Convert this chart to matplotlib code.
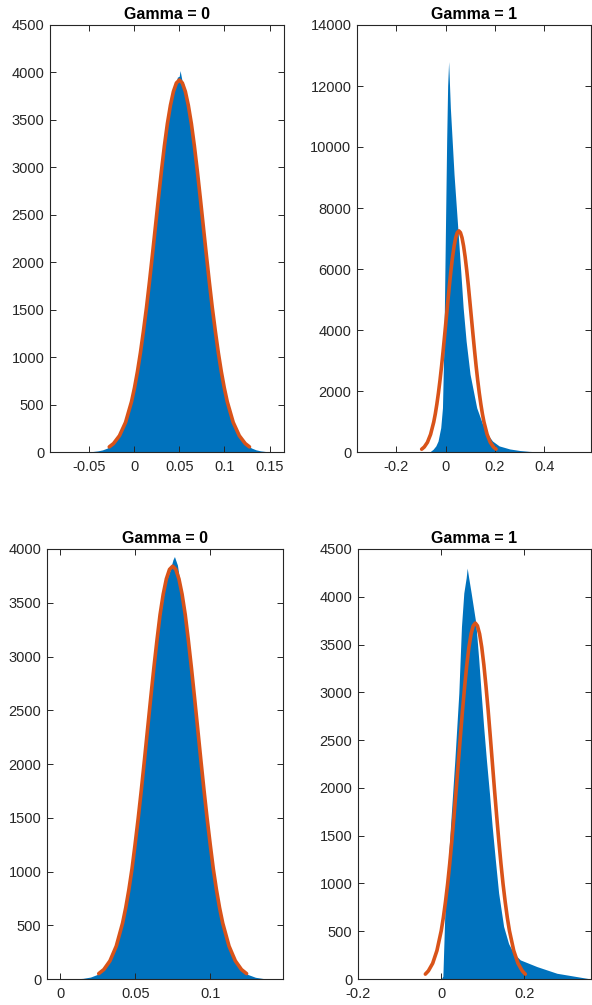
###########################################################################################
## Histograms with normal fits, Gamma = 0 / Gamma = 1
import matplotlib
matplotlib.use('Agg')
import matplotlib.pyplot as plt

plt.rcParams['font.family'] = ['Liberation Sans', 'DejaVu Sans']

## Data ################################
titles = ['Gamma = 0', 'Gamma = 1', 'Gamma = 0', 'Gamma = 1']

# top left
tl_hist_x = [-0.052, -0.045, -0.04, -0.035, -0.03, -0.025, -0.02, -0.015, -0.01, -0.005, 0, 0.005,
             0.01, 0.015, 0.02, 0.025, 0.03, 0.035, 0.04, 0.045, 0.048, 0.05, 0.051, 0.053, 0.055,
             0.06, 0.065, 0.07, 0.075, 0.08, 0.085, 0.09, 0.095, 0.1, 0.105, 0.11, 0.115, 0.12,
             0.125, 0.13, 0.135, 0.14, 0.145, 0.15]
tl_hist_y = [0, 6, 12, 22, 40, 70, 117, 190, 297, 448, 652, 915, 1240, 1623, 2047, 2494, 2932,
             3325, 3640, 3846, 3950, 3960, 4020, 3920, 3880, 3661, 3354, 2966, 2530, 2082, 1655,
             1269, 938, 671, 462, 307, 197, 122, 73, 42, 23, 12, 6, 0]
tl_fit_x = [-0.0274, -0.0227, -0.0161, -0.0094, -0.0028, 0.0005, 0.0038, 0.0071, 0.0104, 0.0138,
            0.0171, 0.0204, 0.0237, 0.0270, 0.0303, 0.0336, 0.0369, 0.0403, 0.0436, 0.0469,
            0.0502,
            0.0535, 0.0568, 0.0601, 0.0635, 0.0668, 0.0701, 0.0734, 0.0767, 0.0800, 0.0833,
            0.0866, 0.0900, 0.0933, 0.0966, 0.0999, 0.1032, 0.1098, 0.1165, 0.1231, 0.1278]
tl_fit_y = [54, 89, 172, 312, 530, 676, 848, 1047, 1273, 1523, 1795, 2082, 2377, 2673, 2959,
            3225, 3459, 3654, 3799, 3889,
            3920,
            3889, 3799, 3654, 3459, 3225, 2959, 2673, 2377, 2082, 1795, 1523, 1273, 1047, 848,
            676, 530, 312, 172, 89, 54]

# top right
tr_hist_x = [-0.065, -0.051, -0.04, -0.031, -0.02, -0.013, -0.007, -0.001, 0.004, 0.008, 0.012,
             0.019, 0.034, 0.05, 0.062, 0.071, 0.083, 0.099, 0.126, 0.15, 0.17, 0.19, 0.217, 0.26,
             0.3, 0.34, 0.38, 0.42]
tr_hist_y = [0, 90, 200, 360, 800, 1450, 3640, 7250, 10200, 12000, 12800, 11290, 9100, 7250,
             5830, 4730, 3640, 2550, 1450, 910, 580, 360, 200, 100, 50, 20, 5, 0]
tr_fit_x = [-0.0975, -0.0868, -0.0740, -0.0613, -0.0485, -0.0421, -0.0358, -0.0294, -0.0230,
            -0.0166, -0.0103, -0.0039, 0.0025, 0.0089, 0.0152, 0.0216, 0.0280, 0.0344, 0.0407,
            0.0471,
            0.0535,
            0.0599, 0.0663, 0.0726, 0.0790, 0.0854, 0.0918, 0.0981, 0.1045, 0.1109, 0.1173,
            0.1236, 0.1300, 0.1364, 0.1428, 0.1491, 0.1555, 0.1683, 0.1810, 0.1938, 0.2045]
tr_fit_y = [91, 165, 318, 577, 981, 1250, 1568, 1936, 2354, 2817, 3319, 3850, 4397, 4944, 5472,
            5964, 6398, 6758, 7027, 7193,
            7250,
            7193, 7027, 6758, 6398, 5964, 5472, 4944, 4397, 3850, 3319, 2817, 2354, 1936, 1568,
            1250, 981, 577, 318, 165, 91]

# bottom left
bl_hist_x = [0.008, 0.015, 0.02, 0.025, 0.03, 0.035, 0.04, 0.045, 0.05, 0.055, 0.06, 0.065, 0.07,
             0.073, 0.075, 0.076, 0.078, 0.08, 0.085, 0.09, 0.095, 0.1, 0.105, 0.11, 0.115, 0.12,
             0.125, 0.13, 0.135, 0.14]
bl_hist_y = [0, 6, 18, 45, 105, 225, 438, 782, 1275, 1901, 2593, 3233, 3684, 3800, 3900, 3930,
             3850, 3658, 3186, 2538, 1847, 1230, 749, 416, 212, 99, 42, 16, 5, 0]
bl_fit_x = [0.0255, 0.0289, 0.0330, 0.0372, 0.0414, 0.0435, 0.0456, 0.0477, 0.0497, 0.0518,
            0.0539, 0.0560, 0.0581, 0.0602, 0.0623, 0.0644, 0.0664, 0.0685, 0.0706, 0.0727,
            0.0748,
            0.0769, 0.0790, 0.0811, 0.0832, 0.0852, 0.0873, 0.0894, 0.0915, 0.0936, 0.0957,
            0.0978, 0.0999, 0.1019, 0.1040, 0.1061, 0.1082, 0.1124, 0.1166, 0.1207, 0.1241]
bl_fit_y = [50, 88, 169, 306, 520, 662, 831, 1026, 1247, 1492, 1758, 2039, 2329, 2618, 2898,
            3159, 3389, 3579, 3722, 3810,
            3840,
            3810, 3722, 3579, 3389, 3159, 2898, 2618, 2329, 2039, 1758, 1492, 1247, 1026, 831,
            662, 520, 306, 169, 88, 50]

# bottom right
br_hist_x = [0.0, 0.004, 0.0087, 0.012, 0.0144, 0.0223, 0.0327, 0.0423, 0.0487, 0.0543, 0.06,
             0.0624, 0.066, 0.072, 0.083, 0.0903, 0.096, 0.102, 0.1087, 0.116, 0.1224, 0.13,
             0.138, 0.15, 0.162, 0.174, 0.19, 0.23, 0.278, 0.326, 0.36]
br_hist_y = [0, 30, 690, 900, 1040, 1600, 2290, 2990, 3690, 4040, 4200, 4300, 4200, 4040, 3730,
             3340, 2990, 2640, 2290, 1940, 1600, 1250, 900, 550, 370, 270, 200, 130, 60, 25, 0]
br_fit_x = [-0.0381, -0.0308, -0.0205, -0.0103, 0.0, 0.0051, 0.0102, 0.0154, 0.0205, 0.0256,
            0.0307, 0.0359, 0.0410, 0.0461, 0.0512, 0.0564, 0.0615, 0.0666, 0.0717, 0.0769,
            0.0820,
            0.0871, 0.0923, 0.0974, 0.1025, 0.1076, 0.1128, 0.1179, 0.1230, 0.1281, 0.1333,
            0.1384, 0.1435, 0.1486, 0.1538, 0.1589, 0.1640, 0.1743, 0.1845, 0.1948, 0.2021]
br_fit_y = [51, 85, 164, 297, 504, 642, 806, 995, 1210, 1448, 1705, 1978, 2259, 2540, 2812,
            3064, 3287, 3472, 3610, 3696,
            3725,
            3696, 3610, 3472, 3287, 3064, 2812, 2540, 2259, 1978, 1705, 1448, 1210, 995, 806,
            642, 504, 297, 164, 85, 51]

## Axis ticks ###########
tl_xticks = [-0.05, 0, 0.05, 0.1, 0.15]
tl_xlabels = ['-0.05', '0', '0.05', '0.1', '0.15']
tl_yticks = [0, 500, 1000, 1500, 2000, 2500, 3000, 3500, 4000, 4500]

tr_xticks = [-0.2, 0, 0.2, 0.4]
tr_xlabels = ['-0.2', '0', '0.2', '0.4']
tr_yticks = [0, 2000, 4000, 6000, 8000, 10000, 12000, 14000]

bl_xticks = [0, 0.05, 0.1]
bl_xlabels = ['0', '0.05', '0.1']
bl_yticks = [0, 500, 1000, 1500, 2000, 2500, 3000, 3500, 4000]

br_xticks = [-0.2, 0, 0.2]
br_xlabels = ['-0.2', '0', '0.2']
br_yticks = [0, 500, 1000, 1500, 2000, 2500, 3000, 3500, 4000, 4500]

## Set up Chart ###########
W, H = 592.0, 1005.0
fig = plt.figure(figsize=(W / 100, H / 100), dpi=100)

def pix_axes(left, top, right, bottom):
    return fig.add_axes([left / W, (H - bottom) / H, (right - left) / W, (bottom - top) / H])

panels = [
    (pix_axes(50, 25, 284, 452), tl_hist_x, tl_hist_y, tl_fit_x, tl_fit_y,
     (-0.093, 0.166), (0, 4500), tl_xticks, tl_xlabels, tl_yticks),
    (pix_axes(357, 25, 591, 452), tr_hist_x, tr_hist_y, tr_fit_x, tr_fit_y,
     (-0.36, 0.59), (0, 14000), tr_xticks, tr_xlabels, tr_yticks),
    (pix_axes(47, 549, 283, 979), bl_hist_x, bl_hist_y, bl_fit_x, bl_fit_y,
     (-0.009, 0.1484), (0, 4000), bl_xticks, bl_xlabels, bl_yticks),
    (pix_axes(358, 549, 591, 979), br_hist_x, br_hist_y, br_fit_x, br_fit_y,
     (-0.2, 0.36), (0, 4500), br_xticks, br_xlabels, br_yticks),
]

blue = '#0072BD'
orange = '#D95319'
axcol = '#262626'

for (ax, hx, hy, fx, fy, xl, yl, xt, xtl, yt), title in zip(panels, titles):
    ax.fill_between(hx, 0, hy, color=blue, linewidth=0, zorder=1)
    ax.plot(fx, fy, color=orange, linewidth=2.6, solid_capstyle='round',
            solid_joinstyle='round', zorder=2)
    ax.set_xlim(xl)
    ax.set_ylim(yl)
    ax.set_xticks(xt)
    ax.set_xticklabels(xtl)
    ax.set_yticks(yt)
    ax.set_yticklabels([str(v) for v in yt])
    ax.tick_params(direction='in', top=True, right=True, length=4, width=0.7,
                   colors=axcol, labelsize=10.5, pad=4)
    ax.tick_params(axis='x', pad=6)
    for s in ax.spines.values():
        s.set_color(axcol)
        s.set_linewidth(0.8)
    ax.set_title(title, fontsize=11.5, fontweight='bold', pad=4)

## Save Chart
fig.savefig('out.png', dpi=100)
